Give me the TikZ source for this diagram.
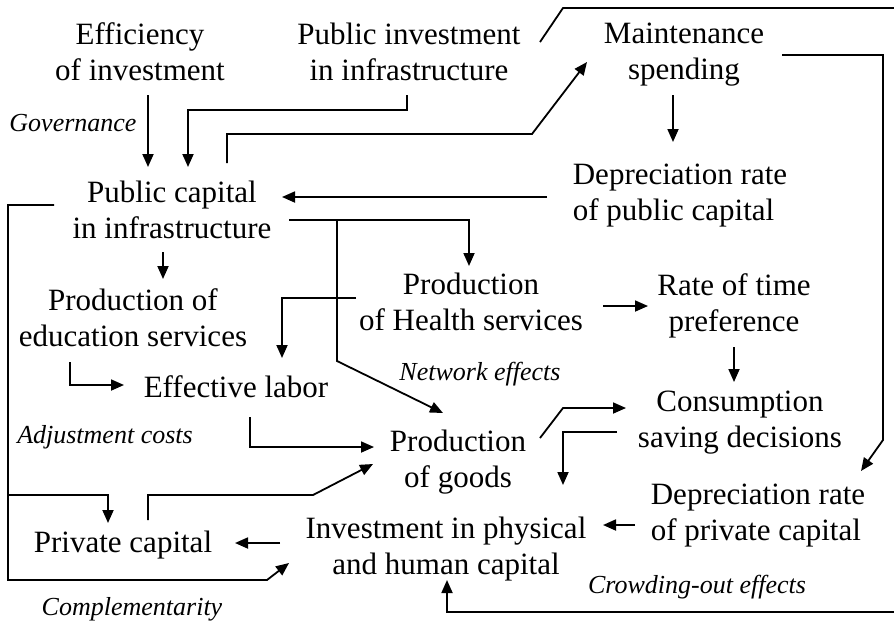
\documentclass[tikz,border=0pt]{standalone}
\usepackage{fontspec}
\setmainfont{Liberation Serif}
\usetikzlibrary{arrows.meta,calc}

\begin{document}
\begin{tikzpicture}[
    x=0.5pt, y=-0.5pt,
    concept/.style={
        % The shape:
        inner sep=0pt,
        align=center,
        % The fonts
        font=\fontsize{15.5}{18}\selectfont},
    effect/.style={
        inner sep=0pt,
        font=\fontsize{13}{15}\selectfont\itshape},
    wire/.style={line width=0.9pt},
    link/.style={wire,-{Triangle[length=6.5pt,width=5.5pt]}}
  ]
  \useasboundingbox (0,0) rectangle (894,623);
  % the ends that run out of the picture
  \coordinate (topright) at (894,8);
  \coordinate (botright) at (894,612);

  \node (eff) [concept] at (140,52) {Efficiency\\of investment};
  \node (pubinv) [concept] at (409,52) {Public investment\\in infrastructure};
  \node (maint) [concept] at (684,55) {Maintenance\\spending};
  \node (deppub) [concept,align=left] at (680,196) {Depreciation rate\\of public capital};
  \node (pubcap) [concept] at (172,210) {Public capital\\in infrastructure};
  \node (edu) [concept] at (133,318) {Production of\\education services};
  \node (health) [concept] at (471,302) {Production\\of Health services};
  \node (rtp) [concept] at (734,306) {Rate of time\\preference};
  \node (efflab) [concept] at (236,387) {Effective labor};
  \node (cons) [concept] at (740,423) {Consumption\\saving decisions};
  \node (goods) [concept] at (458,462) {Production\\of goods};
  \node (invest) [concept] at (446,549) {Investment in physical\\and human capital};
  \node (privcap) [concept] at (123,545) {Private capital};
  \node (deppriv) [concept,align=left] at (758,516) {Depreciation rate\\of private capital};

  \node (gov) [effect] at (73,123) {Governance};
  \node (net) [effect] at (480,374) {Network effects};
  \node (adj) [effect] at (105,437) {Adjustment costs};
  \node (compl) [effect] at (132,609) {Complementarity};
  \node (crowd) [effect] at (697,587) {Crowding-out effects};

  % top part
  \draw [link] ($(eff)+(8,43)$) -- ($(pubcap)+(-24,-43)$);
  \draw [link] ($(pubinv)+(-2,43)$) -- ++(0,15) -| ($(pubcap)+(16,-43)$);
  \draw [link] ($(pubcap)+(55,-47)$) -- ++(0,-29) -- ++(305,0) -- ($(maint)+(-97,7)$);
  \draw [wire] ($(pubinv)+(131,-10)$) -- ++(23,-34) -- (topright);
  \draw [link] ($(maint)+(98,0)$) -- ++(101,0) -- ++(0,385) -- ($(deppriv)+(103,-45)$);
  \draw [link] ($(maint)+(-11,40)$) -- ($(deppub)+(-7,-54)$);
  \draw [link] ($(deppub)+(-133,1)$) -- ($(pubcap)+(110,-13)$);
  % services
  \draw [link] ($(pubcap)+(117,10)$) -- ++(48,0) coordinate (fork) -| ($(health)+(-2,-36)$);
  \draw [link] (fork) -- ++(0,141) -- ($(goods)+(-15,-49)$);
  \draw [link] ($(health)+(-115,-4)$) -| ($(efflab)+(46,-29)$);
  \draw [link] ($(pubcap)+(-9,42)$) -- ($(edu)+(30,-39)$);
  \draw [link] ($(edu)+(-63,44)$) |- ($(efflab)+(-112,-2)$);
  \draw [link] ($(health)+(132,4)$) -- ($(rtp)+(-86,0)$);
  \draw [link] ($(rtp)+(0,41)$) -- ($(cons)+(-6,-41)$);
  % goods and capital
  \draw [link] ($(efflab)+(14,30)$) |- ($(goods)+(-84,-15)$);
  \draw [link] ($(privcap)+(25,-25)$) -- ++(0,-25) -- ++(165,0) -- ($(goods)+(-85,2)$);
  \draw [link] ($(pubcap)+(-118,-5)$) -- ++(-46,0) -- ++(0,290) coordinate (west fork)
    -- ++(0,85) -- ++(259,0) -- ($(invest)+(-157,14)$);
  \draw [link] (west fork) -| ($(privcap)+(-15,-22)$);
  \draw [link] ($(goods)+(82,-24)$) -- ++(23,-30) -- ($(cons)+(-114,-15)$);
  \draw [link] ($(cons)+(-123,9)$) -| ($(invest)+(117,-64)$);
  \draw [link] ($(invest)+(-166,-6)$) -- ($(privcap)+(112,-2)$);
  \draw [link] ($(deppriv)+(-123,9)$) -- ($(invest)+(157,-24)$);
  \draw [link] (botright) -| ($(invest)+(1,31)$);
\end{tikzpicture}
\end{document}
